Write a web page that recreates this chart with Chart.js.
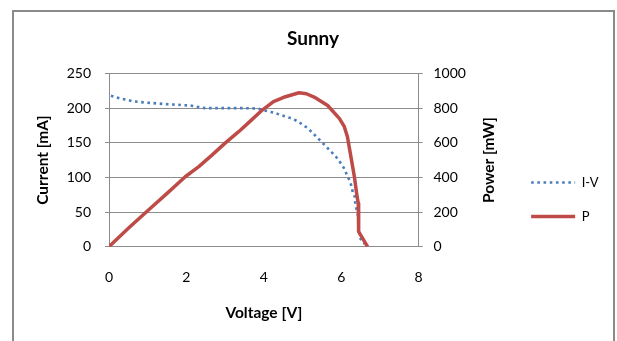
<!DOCTYPE html>
<html>
<head>
<meta charset="utf-8">
<script src="https://cdn.jsdelivr.net/npm/chart.js@4.4.1/dist/chart.umd.min.js"></script>
<style>
  html, body { margin: 0; padding: 0; background: #ffffff; }
  #wrap { position: relative; width: 617px; height: 341px; overflow: hidden; }
  #frame { position: absolute; left: 12px; top: 10px; width: 603px; height: 360px;
           border: 2px solid #8a8a8a; box-sizing: border-box; }
  #c { position: absolute; left: 0; top: 0; }
</style>
</head>
<body>
<div id="wrap">
  <div id="frame"></div>
  <canvas id="c" width="617" height="341"></canvas>
</div>
<script>
// Solar panel measurement on a sunny day
const chartTitle = 'Sunny';
const xAxisTitle = 'Voltage [V]';
const leftAxisTitle = 'Current [mA]';
const rightAxisTitle = 'Power [mW]';
const seriesNames = ['I-V', 'P'];

// Tick labels
const voltageTicks = [0, 2, 4, 6, 8];
const currentTicks = [0, 50, 100, 150, 200, 250];
const powerTicks = [0, 200, 400, 600, 800, 1000];

// I-V curve: voltage [V] and current [mA]
const ivVoltage = [0.05, 0.29, 0.46, 0.61, 0.77, 0.95, 1.09, 1.41, 1.73, 2.14, 2.32, 2.47, 2.80,
                   3.14, 3.48, 3.83, 4.00, 4.18, 4.34, 4.50, 4.67, 4.82, 4.97, 5.11, 5.24,
                   5.37, 5.49, 5.62, 5.75, 5.87, 5.97, 6.07, 6.14, 6.22, 6.27, 6.30, 6.35,
                   6.36, 6.39, 6.43, 6.47, 6.53, 6.60];
const ivCurrent = [218, 214, 212, 210, 209, 208, 207.5, 206, 205, 203.5, 201.5, 200, 200,
                   200, 200, 199.5, 197, 194.5, 192, 189, 186, 182.5, 177.5, 172, 165.5,
                   158, 151.5, 144, 136.5, 129.5, 122, 113.5, 104.5, 95, 86.5, 78, 72,
                   64.5, 55.5, 46, 14, 9, 4];

// Power curve: voltage [V] and power [mW]
const pVoltage = [0.00, 0.50, 1.02, 1.50, 1.97, 2.32, 2.66, 3.00, 3.35, 3.65, 3.96, 4.25,
                  4.56, 4.91, 5.10, 5.30, 5.65, 5.95, 6.08, 6.16, 6.25, 6.34, 6.41, 6.44,
                  6.45, 6.68];
const pPower = [0, 106, 212, 308, 404, 462, 529, 598, 664, 725, 789, 838,
                866, 889, 883, 864, 815, 741, 693, 635, 520, 404, 289, 251,
                87, 0];

const FONT = 'Lato, "Open Sans", "DejaVu Sans", sans-serif';
const GRID = '#8c8c8c';
const IV_COLOR = '#4a7ebb';
const P_COLOR = '#be4b48';
const TICK_FONT = { family: FONT, size: 14 };
const AXIS_TITLE_FONT = { family: FONT, size: 15.5, weight: 'bold' };

const toPoints = (xs, ys) => xs.map((x, i) => ({ x: x, y: ys[i] }));
const plainLabel = v => String(v);

// Right-hand axis title reads bottom-to-top, like the left one
const rightTitlePlugin = {
  id: 'rightTitle',
  afterDraw(chart) {
    const s = chart.scales.y2;
    const ctx = chart.ctx;
    ctx.save();
    ctx.font = 'bold 15.5px ' + FONT;
    ctx.fillStyle = '#000';
    ctx.textAlign = 'center';
    ctx.textBaseline = 'middle';
    ctx.translate(s.right - 21, (s.top + s.bottom) / 2);
    ctx.rotate(-Math.PI / 2);
    ctx.fillText(rightAxisTitle, 0, 0);
    ctx.restore();
  }
};

new Chart(document.getElementById('c'), {
  type: 'line',
  data: {
    datasets: [
      {
        label: seriesNames[0],
        data: toPoints(ivVoltage, ivCurrent),
        yAxisID: 'y',
        borderColor: IV_COLOR,
        backgroundColor: IV_COLOR,
        borderWidth: 2.6,
        borderDash: [2.6, 3.6],
        pointRadius: 0,
        tension: 0,
        fill: false,
        order: 1
      },
      {
        label: seriesNames[1],
        data: toPoints(pVoltage, pPower),
        yAxisID: 'y2',
        borderColor: P_COLOR,
        backgroundColor: P_COLOR,
        borderWidth: 3.5,
        borderJoinStyle: 'round',
        pointRadius: 0,
        tension: 0,
        fill: false,
        order: 0
      }
    ]
  },
  options: {
    responsive: false,
    animation: false,
    devicePixelRatio: 1,
    layout: { padding: { left: 17.5, right: 8.5, top: 0, bottom: 0 } },
    plugins: {
      title: {
        display: true,
        text: chartTitle,
        color: '#000',
        font: { family: FONT, size: 19, weight: 'bold' },
        padding: { top: 27.6, bottom: 23.1 }
      },
      legend: {
        display: true,
        position: 'right',
        align: 'start',
        title: { display: true, text: ' ', font: { size: 1 }, padding: { top: 153.8, bottom: 0 } },
        labels: {
          usePointStyle: true,
          pointStyle: 'line',
          pointStyleWidth: 44,
          padding: 21,
          color: '#000',
          font: { family: FONT, size: 13 },
          sort: (a, b) => a.datasetIndex - b.datasetIndex,
          generateLabels: chart =>
            Chart.defaults.plugins.legend.labels.generateLabels(chart).map(item => {
              const ds = chart.data.datasets[item.datasetIndex];
              item.lineDash = ds.borderDash || [];
              item.lineWidth = ds.borderWidth;
              item.strokeStyle = ds.borderColor;
              item.fillStyle = ds.borderColor;
              item.pointStyle = 'line';
              return item;
            })
        }
      },
      tooltip: { enabled: false }
    },
    scales: {
      x: {
        type: 'linear',
        position: 'bottom',
        min: voltageTicks[0],
        max: voltageTicks[voltageTicks.length - 1],
        afterBuildTicks: s => { s.ticks = voltageTicks.map(v => ({ value: v })); },
        ticks: { color: '#000', font: TICK_FONT, padding: 22, callback: plainLabel },
        grid: { display: false, drawTicks: false },
        border: { display: true, color: GRID, width: 1 },
        title: {
          display: true,
          text: xAxisTitle,
          color: '#000',
          font: AXIS_TITLE_FONT,
          padding: { top: 0, bottom: 18.7 }
        },
        afterFit: s => { s.height = 94.3; }
      },
      y: {
        type: 'linear',
        position: 'left',
        min: currentTicks[0],
        max: currentTicks[currentTicks.length - 1],
        afterBuildTicks: s => { s.ticks = currentTicks.map(v => ({ value: v })); },
        ticks: { color: '#000', font: TICK_FONT, padding: 14, callback: plainLabel },
        grid: { color: GRID, lineWidth: 1, drawTicks: true, tickLength: 4, tickColor: GRID },
        border: { display: true, color: GRID, width: 1 },
        title: {
          display: true,
          text: leftAxisTitle,
          color: '#000',
          font: AXIS_TITLE_FONT,
          padding: { top: 16.2, bottom: 0 }
        },
        afterFit: s => { s.width = 91.5; }
      },
      y2: {
        type: 'linear',
        position: 'right',
        min: powerTicks[0],
        max: powerTicks[powerTicks.length - 1],
        afterBuildTicks: s => { s.ticks = powerTicks.map(v => ({ value: v })); },
        ticks: { color: '#000', font: TICK_FONT, padding: 10.8, callback: plainLabel },
        grid: { drawOnChartArea: false, drawTicks: true, tickLength: 4, tickColor: GRID },
        border: { display: true, color: GRID, width: 1 },
        title: { display: false },
        afterFit: s => { s.width = 91.5; }
      }
    }
  },
  plugins: [rightTitlePlugin]
});
</script>
</body>
</html>
